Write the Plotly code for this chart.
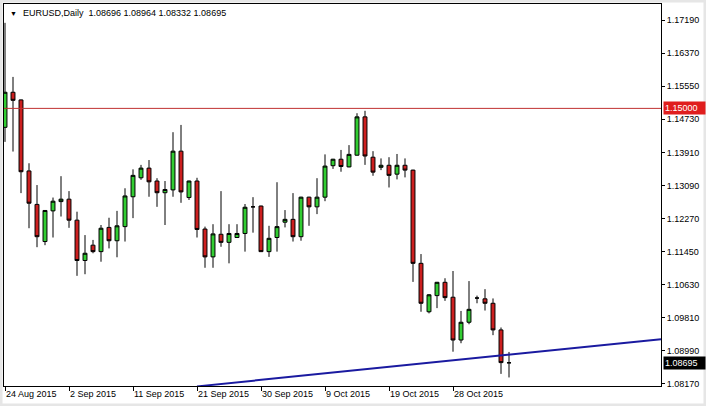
import plotly.graph_objects as go

# ---------------- data ----------------
DATES = [
    "2015-08-24", "2015-08-25", "2015-08-26", "2015-08-27", "2015-08-28",
    "2015-08-30", "2015-08-31", "2015-09-01", "2015-09-02", "2015-09-03", "2015-09-04",
    "2015-09-06", "2015-09-07", "2015-09-08", "2015-09-09", "2015-09-10", "2015-09-11",
    "2015-09-13", "2015-09-14", "2015-09-15", "2015-09-16", "2015-09-17", "2015-09-18",
    "2015-09-20", "2015-09-21", "2015-09-22", "2015-09-23", "2015-09-24", "2015-09-25",
    "2015-09-27", "2015-09-28", "2015-09-29", "2015-09-30", "2015-10-01", "2015-10-02",
    "2015-10-04", "2015-10-05", "2015-10-06", "2015-10-07", "2015-10-08", "2015-10-09",
    "2015-10-11", "2015-10-12", "2015-10-13", "2015-10-14", "2015-10-15", "2015-10-16",
    "2015-10-18", "2015-10-19", "2015-10-20", "2015-10-21", "2015-10-22", "2015-10-23",
    "2015-10-25", "2015-10-26", "2015-10-27", "2015-10-28", "2015-10-29", "2015-10-30",
    "2015-11-01", "2015-11-02", "2015-11-03", "2015-11-04", "2015-11-05",
]

OPEN = [
    1.1453, 1.1540, 1.1521, 1.1345, 1.1262, 1.1170, 1.1246, 1.1269, 1.1275, 1.1223,
    1.1123, 1.1161, 1.1145, 1.1205, 1.1172, 1.1207, 1.1281, 1.1328, 1.1352, 1.1320,
    1.1291, 1.1298, 1.1394, 1.1279, 1.1320, 1.1201, 1.1132, 1.1188, 1.1168, 1.1180,
    1.1190, 1.1256, 1.1258, 1.1145, 1.1180, 1.1218, 1.1225, 1.1182, 1.1280, 1.1256,
    1.1280, 1.1358, 1.1374, 1.1355, 1.1384, 1.1479, 1.1379, 1.1354, 1.1359, 1.1337,
    1.1359, 1.1347, 1.1116, 1.0996, 1.1036, 1.1069, 1.1032, 1.0926, 1.0970, 1.1030,
    1.1028, 1.1017, 1.0951, 1.08696,
]
HIGH = [
    1.1712, 1.1578, 1.1522, 1.1364, 1.1310, 1.1248, 1.1279, 1.1332, 1.1295, 1.1244,
    1.1186, 1.1174, 1.1211, 1.1229, 1.1246, 1.1302, 1.1349, 1.1360, 1.1372, 1.1327,
    1.1320, 1.1441, 1.1459, 1.1321, 1.1328, 1.1207, 1.1213, 1.1295, 1.1213, 1.1213,
    1.1263, 1.1280, 1.1259, 1.1209, 1.1317, 1.1248, 1.1290, 1.1281, 1.1281, 1.1327,
    1.1386, 1.1375, 1.1397, 1.1409, 1.1488, 1.1494, 1.1394, 1.1376, 1.1379, 1.1387,
    1.1376, 1.1348, 1.1139, 1.1040, 1.1070, 1.1079, 1.1097, 1.0998, 1.1072, 1.1036,
    1.1052, 1.1029, 1.0957, 1.08964,
]
LOW = [
    1.1417, 1.1393, 1.1290, 1.1203, 1.1156, 1.1161, 1.1180, 1.1232, 1.1204, 1.1085,
    1.1089, 1.1141, 1.1120, 1.1153, 1.1131, 1.1170, 1.1228, 1.1323, 1.1281, 1.1256,
    1.1211, 1.1281, 1.1266, 1.1273, 1.1180, 1.1105, 1.1105, 1.1157, 1.1116, 1.1179,
    1.1145, 1.1192, 1.1144, 1.1132, 1.1145, 1.1205, 1.1170, 1.1172, 1.1209, 1.1238,
    1.1270, 1.1350, 1.1343, 1.1354, 1.1383, 1.1360, 1.1333, 1.1347, 1.1304, 1.1324,
    1.1329, 1.1070, 1.0996, 1.0992, 1.1005, 1.1023, 1.0897, 1.0918, 1.0965, 1.1017,
    1.0999, 1.0938, 1.0842, 1.08332,
]
CLOSE = [
    1.1540, 1.1520, 1.1343, 1.1265, 1.1182, 1.1247, 1.1270, 1.1275, 1.1223, 1.1123,
    1.1141, 1.1145, 1.1203, 1.1172, 1.1209, 1.1283, 1.1334, 1.1352, 1.1318, 1.1291,
    1.1299, 1.1394, 1.1293, 1.1320, 1.1200, 1.1132, 1.1189, 1.1168, 1.1190, 1.1190,
    1.1255, 1.1256, 1.1145, 1.1178, 1.1207, 1.1225, 1.1182, 1.1280, 1.1256, 1.1280,
    1.1357, 1.1374, 1.1356, 1.1386, 1.1479, 1.1382, 1.1342, 1.1359, 1.1334, 1.1359,
    1.1347, 1.1116, 1.1017, 1.1038, 1.1069, 1.1031, 1.0926, 1.0970, 1.1002, 1.1030,
    1.1017, 1.0951, 1.0870, 1.08695,
]

XLABEL_DATES = ["2015-08-24", "2015-09-02", "2015-09-11", "2015-09-21",
                "2015-09-30", "2015-10-09", "2015-10-19", "2015-10-28"]
XLABEL_TEXT = ["24 Aug 2015", "2 Sep 2015", "11 Sep 2015", "21 Sep 2015",
               "30 Sep 2015", "9 Oct 2015", "19 Oct 2015", "28 Oct 2015"]
YTICKS = [1.0817, 1.0899, 1.0981, 1.1063, 1.1145, 1.1227,
          1.1309, 1.1391, 1.1473, 1.1555, 1.1637, 1.1719]

SYMBOL = "EURUSD,Daily"
LEVEL_PRICE = 1.15000
TREND_X = [24, 82]          # bar index of the two trend-line anchors
TREND_Y = [1.0811, 1.0928]  # prices at those anchors

X_RANGE = [-0.125, 82]
Y_RANGE = [1.0812, 1.17587]

# ---------------- figure ----------------
W, H = 706, 406
ML, MR, MT, MB = 4, 45, 4, 20
PW, PH = W - ML - MR, H - MT - MB
FONT = "Liberation Sans, Arial, sans-serif"

idx = list(range(len(DATES)))

fig = go.Figure()
fig.add_trace(go.Candlestick(
    x=idx, open=OPEN, high=HIGH, low=LOW, close=CLOSE,
    increasing=dict(fillcolor="#32CD32", line=dict(color="black", width=1)),
    decreasing=dict(fillcolor="#CC1F1F", line=dict(color="black", width=1)),
    whiskerwidth=0, hoverinfo="skip", showlegend=False,
))
fig.add_trace(go.Scatter(
    x=TREND_X, y=TREND_Y, mode="lines",
    line=dict(color="#1A1AA0", width=2), hoverinfo="skip", showlegend=False,
))

annotations = []
for d, t in zip(XLABEL_DATES, XLABEL_TEXT):
    annotations.append(dict(
        x=DATES.index(d), xref="x", y=0, yref="paper", text=t, showarrow=False,
        xanchor="left", yanchor="top", xshift=-1, yshift=-1,
        font=dict(family=FONT, size=9, color="black"),
    ))
# header
annotations.append(dict(
    x=0, xref="paper", y=1, yref="paper", text="▼", showarrow=False,
    xanchor="left", yanchor="middle", xshift=4, yshift=-9,
    font=dict(family=FONT, size=7, color="black"),
))
header = SYMBOL + "\u00a0\u00a0" + " ".join(
    f"{v:.5f}" for v in (OPEN[-1], HIGH[-1], LOW[-1], CLOSE[-1]))
annotations.append(dict(
    x=0, xref="paper", y=1, yref="paper", text=header, showarrow=False,
    xanchor="left", yanchor="middle", xshift=17, yshift=-9,
    font=dict(family=FONT, size=9, color="black"),
))
# price boxes on the right scale
annotations.append(dict(
    x=1, xref="paper", y=LEVEL_PRICE, yref="y", text=f"{LEVEL_PRICE:.5f}",
    showarrow=False, xanchor="left", yanchor="middle", xshift=2,
    bgcolor="#E01E1E", borderpad=1, width=39, height=10, align="left",
    font=dict(family=FONT, size=9, color="white"),
))
annotations.append(dict(
    x=1, xref="paper", y=CLOSE[-1], yref="y", text=f"{CLOSE[-1]:.5f}",
    showarrow=False, xanchor="left", yanchor="middle", xshift=2,
    bgcolor="black", borderpad=1, width=39, height=10, align="left",
    font=dict(family=FONT, size=9, color="white"),
))

shapes = [
    dict(type="line", xref="paper", x0=0, x1=1, yref="y",
         y0=LEVEL_PRICE, y1=LEVEL_PRICE, line=dict(color="#C03030", width=1)),
    # window chrome border
    dict(type="rect", xref="paper", yref="paper",
         x0=-(ML - 1) / PW, x1=1 + (MR - 1) / PW,
         y0=-(MB - 1) / PH, y1=1 + (MT - 1) / PH,
         line=dict(color="#E6E6E6", width=3), fillcolor="rgba(0,0,0,0)", layer="below"),
]

fig.update_layout(
    width=W, height=H,
    margin=dict(l=ML, r=MR, t=MT, b=MB, pad=0),
    paper_bgcolor="white", plot_bgcolor="white",
    showlegend=False,
    annotations=annotations, shapes=shapes,
    xaxis=dict(
        range=X_RANGE, showgrid=False, zeroline=False,
        showline=True, mirror=True, linecolor="black", linewidth=1,
        ticks="outside", ticklen=4, tickcolor="black", tickwidth=1,
        tickvals=[DATES.index(d) for d in XLABEL_DATES], showticklabels=False,
        rangeslider=dict(visible=False), fixedrange=True,
    ),
    yaxis=dict(
        range=Y_RANGE, side="right", showgrid=False, zeroline=False,
        showline=True, mirror=True, linecolor="black", linewidth=1,
        ticks="outside", ticklen=3, tickcolor="black", tickwidth=1,
        tickvals=YTICKS, ticktext=[f"{v:.5f}" for v in YTICKS],
        tickfont=dict(family=FONT, size=9, color="black"),
        fixedrange=True,
    ),
)

fig.write_html(
    "out.html",
    config={"displayModeBar": False},
    post_script="document.body.style.margin='0';document.body.style.overflow='hidden';",
)
